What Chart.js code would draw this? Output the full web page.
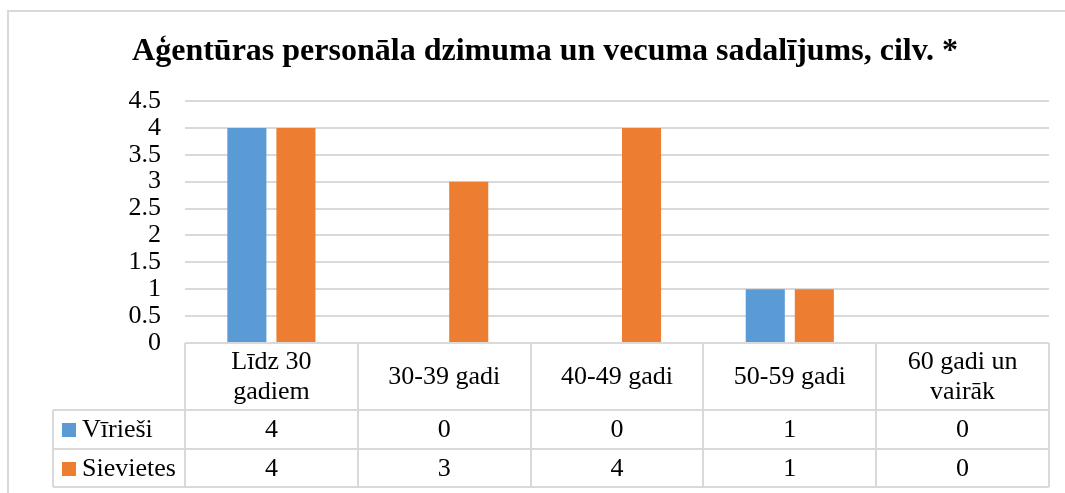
<!DOCTYPE html>
<html>
<head>
<meta charset="utf-8">
<script src="https://cdn.jsdelivr.net/npm/chart.js"></script>
<style>
    body { margin: 0; background: #fff; }
</style>
</head>
<body>
<canvas id="age-chart" width="1065" height="493"></canvas>
<script>
    // Data
    var titleText = "Aģentūras personāla dzimuma un vecuma sadalījums, cilv. *";
    var categories = [["Līdz 30", "gadiem"], ["30-39 gadi"], ["40-49 gadi"], ["50-59 gadi"], ["60 gadi un", "vairāk"]];
    var seriesNames = ["Vīrieši", "Sievietes"];
    var men = [4, 0, 0, 1, 0];
    var women = [4, 3, 4, 1, 0];
    var yMax = 4.5;
    var yStep = 0.5;

    var serif = "'Times New Roman', 'Liberation Serif', serif";
    var gridColor = "#d9d9d9";

    // Chart frame + title
    var framePlugin = {
        id: "frame",
        beforeDraw: function (chart) {
            var ctx = chart.ctx;
            ctx.save();
            ctx.fillStyle = "#fff";
            ctx.fillRect(0, 0, chart.width, chart.height);
            ctx.strokeStyle = gridColor;
            ctx.lineWidth = 2;
            ctx.strokeRect(8, 11, 1200, 600);
            ctx.fillStyle = "#000";
            ctx.font = "bold 32px " + serif;
            ctx.textAlign = "center";
            ctx.textBaseline = "alphabetic";
            ctx.fillText(titleText, 545, 60);
            ctx.restore();
        }
    };

    // Data table under the plot
    var tablePlugin = {
        id: "dataTable",
        afterDraw: function (chart) {
            var ctx = chart.ctx;
            var area = chart.chartArea;
            var xs = chart.scales.x;
            var n = categories.length;
            var colW = (area.right - area.left) / n;
            var headTop = area.bottom;
            var rowTop = headTop + 67;
            var rowH = 38.5;
            var tableLeft = 53;
            var tableBottom = rowTop + rowH * chart.data.datasets.length;

            ctx.save();
            ctx.strokeStyle = gridColor;
            ctx.lineWidth = 2;
            ctx.beginPath();
            // horizontal lines
            ctx.moveTo(area.left, headTop);
            ctx.lineTo(area.right, headTop);
            for (var r = 0; r <= chart.data.datasets.length; r++) {
                var y = Math.round(rowTop + r * rowH);
                ctx.moveTo(tableLeft, y);
                ctx.lineTo(area.right, y);
            }
            // vertical lines
            for (var c = 0; c <= n; c++) {
                var x = Math.round(area.left + c * colW);
                ctx.moveTo(x, headTop);
                ctx.lineTo(x, tableBottom);
            }
            ctx.moveTo(tableLeft, rowTop);
            ctx.lineTo(tableLeft, tableBottom);
            ctx.stroke();

            ctx.fillStyle = "#000";
            ctx.font = "26px " + serif;
            ctx.textAlign = "center";
            ctx.textBaseline = "middle";
            var lh = 30;

            // header labels
            categories.forEach(function (lines, i) {
                var cx = xs.getPixelForTick(i);
                var cy = (headTop + rowTop) / 2;
                var start = cy - (lines.length - 1) * lh / 2;
                lines.forEach(function (t, k) {
                    ctx.fillText(t, cx, start + k * lh + 1);
                });
            });

            // rows
            chart.data.datasets.forEach(function (ds, r) {
                var cy = rowTop + r * rowH + rowH / 2 + 1;
                ctx.fillStyle = ds.backgroundColor;
                ctx.fillRect(62, Math.round(cy - 7), 14, 14);
                ctx.fillStyle = "#000";
                ctx.textAlign = "left";
                ctx.fillText(ds.label, 82, cy);
                ctx.textAlign = "center";
                ds.data.forEach(function (v, i) {
                    ctx.fillText(String(v), xs.getPixelForTick(i), cy);
                });
            });
            ctx.restore();
        }
    };

    var ctx1 = document.getElementById("age-chart").getContext("2d");
    var myChart1 = new Chart(ctx1, {
        type: "bar",
        data: {
            labels: categories,
            datasets: [{
                label: seriesNames[0],
                data: men,
                backgroundColor: "#5b9bd5"
            },
            {
                label: seriesNames[1],
                data: women,
                backgroundColor: "#ed7d31"
            }]
        },
        options: {
            responsive: false,
            animation: false,
            devicePixelRatio: 1,
            categoryPercentage: 0.568,
            barPercentage: 0.796,
            layout: {
                padding: { top: 101, right: 16, bottom: 150, left: 0 }
            },
            plugins: {
                legend: { display: false },
                title: { display: false },
                tooltip: { enabled: false }
            },
            scales: {
                x: {
                    display: false
                },
                y: {
                    min: 0,
                    max: yMax,
                    afterFit: function (scale) {
                        scale.width = 185;
                    },
                    border: { display: false },
                    grid: {
                        color: gridColor,
                        lineWidth: 2,
                        drawTicks: false
                    },
                    ticks: {
                        stepSize: yStep,
                        autoSkip: false,
                        padding: 24,
                        color: "#000",
                        font: { family: serif, size: 26 },
                        callback: function (v) { return String(v); }
                    }
                }
            }
        },
        plugins: [framePlugin, tablePlugin]
    });
</script>
</body>
</html>
